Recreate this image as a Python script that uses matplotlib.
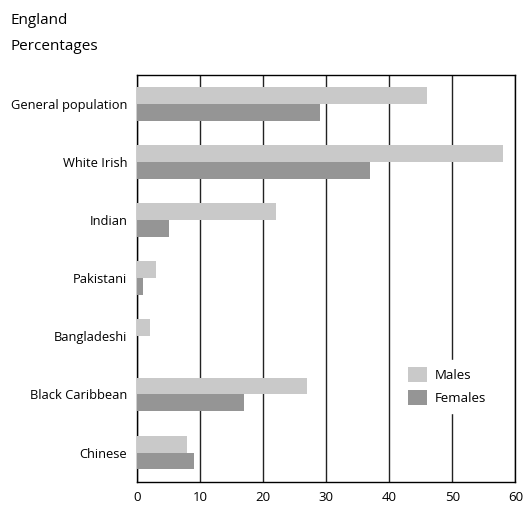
import matplotlib
matplotlib.use("Agg")
import matplotlib.pyplot as plt
import numpy as np

categories = ["General population", "White Irish", "Indian", "Pakistani",
              "Bangladeshi", "Black Caribbean", "Chinese"]
males = [46, 58, 22, 3, 2, 27, 8]
females = [29, 37, 5, 1, 0, 17, 9]
xticks = [0, 10, 20, 30, 40, 50, 60]

plt.rcParams['font.family'] = ['Open Sans', 'DejaVu Sans']

fig = plt.figure(figsize=(5.26, 5.08), dpi=100)
ax = fig.add_axes([0.2605, 0.0518, 0.7195, 0.8012])

y = np.arange(len(categories))
h = 0.29
ax.barh(y - h/2, males, height=h, color="#c9c9c9", label="Males", zorder=3)
ax.barh(y + h/2, females, height=h, color="#959595", label="Females", zorder=3)

ax.set_ylim(len(categories) - 0.5, -0.5)
ax.set_xlim(0, 60)
ax.set_xticks(xticks)
ax.set_xticklabels([str(t) for t in xticks], fontsize=9.5)
ax.set_yticks(y)
ax.set_yticklabels(categories, fontsize=9.3)
ax.tick_params(axis='both', length=0, pad=7)
ax.tick_params(axis='y', pad=7)
ax.xaxis.grid(True, color="#222222", linewidth=1.0, zorder=1)
ax.set_axisbelow(True)
for s in ax.spines.values():
    s.set_linewidth(1.0)
    s.set_color("black")

leg = ax.legend(loc="upper left", bbox_to_anchor=(0.695, 0.300), frameon=True,
                fontsize=9.5, handlelength=1.44, handleheight=1.36,
                labelspacing=0.6, borderpad=0.6, handletextpad=0.6,
                borderaxespad=0)
leg.get_frame().set_edgecolor("white")
leg.get_frame().set_facecolor("white")
leg.get_frame().set_alpha(1)
leg.get_frame().set_boxstyle("square", pad=0)
leg.set_zorder(5)

fig.text(10/526, 1 - 20/508, "England", fontsize=11, va="center", ha="left")
fig.text(10/526, 1 - 46/508, "Percentages", fontsize=11, va="center", ha="left")

fig.savefig("out.png", dpi=100)
